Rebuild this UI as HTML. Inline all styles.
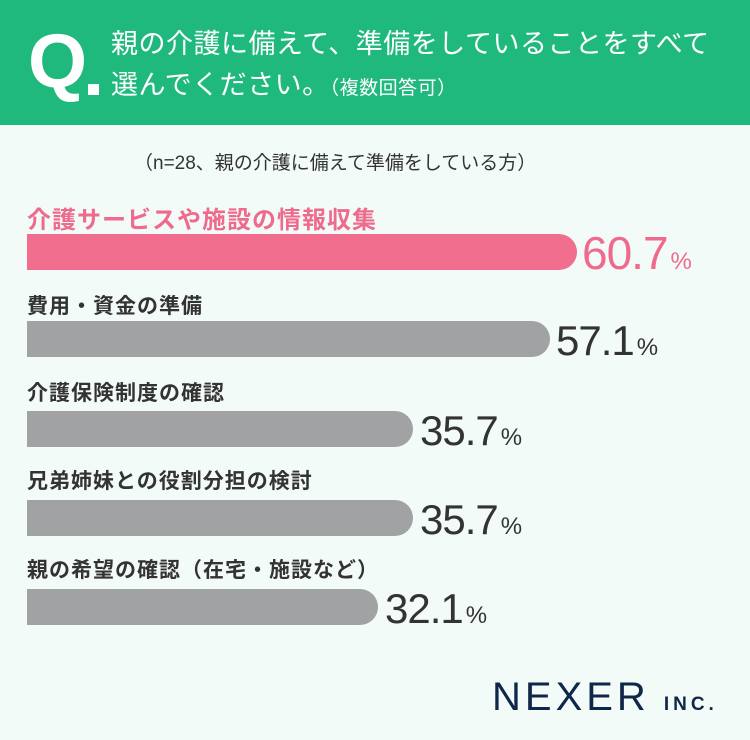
<!DOCTYPE html>
<html><head><meta charset="utf-8"><style>
*{margin:0;padding:0}
body{width:750px;height:740px;background:#f3fbf9;position:relative;overflow:hidden;font-family:"Liberation Sans","Noto Sans CJK JP",sans-serif}
.hdr{position:absolute;left:0;top:0;width:750px;height:125px;background:#20b97d}
.q{position:absolute;left:28px;top:24px;color:#fff;font-size:76px;font-weight:bold;line-height:76px}
.qd{position:absolute;left:88px;top:84px;width:11px;height:11px;background:#fff}
.ht{position:absolute;left:111px;color:#fff;font-size:27px;line-height:36px;letter-spacing:0.5px}
.n{position:absolute;left:134px;top:148px;font-size:19px;color:#333}
.lab{position:absolute;left:27px;font-size:21px;font-weight:bold;color:#333;letter-spacing:1px}
.bar{position:absolute;left:27px;height:36px;background:#a0a2a4;border-radius:0 18px 18px 0}
.v{position:absolute;font-size:42px;color:#333;letter-spacing:-1px;line-height:42px}
.v span{font-size:24px;letter-spacing:0;margin-left:3px}
.logo{position:absolute;left:492px;top:677px;font-size:40px;color:#0f2748;letter-spacing:4px;line-height:40px}
.logo span{font-size:19px;font-weight:bold;letter-spacing:4px;margin-left:14px}
</style></head><body>
<div class="hdr"></div>
<div class="q">Q</div><div class="qd"></div>
<div class="ht" style="top:26px">親の介護に備えて、準備をしていることをすべて</div>
<div class="ht" style="top:67px">選んでください。<span style="font-size:19px">（複数回答可）</span></div>
<div class="n">（n=28、親の介護に備えて準備をしている方）</div>

<div class="lab" style="top:200px;color:#ef6b8d;font-size:24px">介護サービスや施設の情報収集</div>
<div class="bar" style="top:234px;width:550px;background:#f26e8e"></div>
<div class="v" style="left:582px;top:232px;color:#ef6b8d;font-size:46px">60.7<span>%</span></div>

<div class="lab" style="top:290px">費用・資金の準備</div>
<div class="bar" style="top:321px;width:523px"></div>
<div class="v" style="left:556px;top:320px">57.1<span>%</span></div>

<div class="lab" style="top:377px">介護保険制度の確認</div>
<div class="bar" style="top:411px;width:386px"></div>
<div class="v" style="left:420px;top:410px">35.7<span>%</span></div>

<div class="lab" style="top:465px">兄弟姉妹との役割分担の検討</div>
<div class="bar" style="top:500px;width:386px"></div>
<div class="v" style="left:420px;top:499px">35.7<span>%</span></div>

<div class="lab" style="top:554px">親の希望の確認（在宅・施設など）</div>
<div class="bar" style="top:589px;width:351px"></div>
<div class="v" style="left:385px;top:588px">32.1<span>%</span></div>

<div class="logo">NEXER<span>INC.</span></div>
</body></html>
